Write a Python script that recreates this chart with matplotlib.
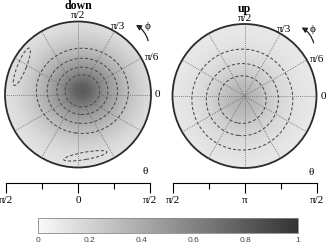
import numpy as np
import matplotlib
matplotlib.use("Agg")
import matplotlib.pyplot as plt
from matplotlib.colors import LinearSegmentedColormap
from matplotlib.patches import Circle, Ellipse, FancyArrowPatch

# ---------------- data ----------------
panel_titles = ["down", "up"]
phi_labels = ["0", "\u03c0/6", "\u03c0/3", "\u03c0/2"]
theta_ticklabels = [["\u03c0/2", "0", "\u03c0/2"], ["\u03c0/2", "\u03c0", "\u03c0/2"]]
cbar_ticks = [0, 0.2, 0.4, 0.6, 0.8, 1]

# density radial profile (distance from the peak, in disc radii) -> value
down_profile_r = [0.0, 0.1, 0.2, 0.3, 0.42, 0.55, 0.7, 0.85, 1.05, 1.3]
down_profile_v = [0.82, 0.75, 0.62, 0.52, 0.42, 0.32, 0.23, 0.16, 0.11, 0.09]
down_peak = (0.06, 0.05)
down_aspect = (1.08, 1.0)
down_levels = [0.3, 0.4, 0.5, 0.6]
# small closed contours near the rim: (x, y, length, width, angle)
down_edge_loops = [(-0.77, 0.38, 0.55, 0.12, 68), (0.10, -0.84, 0.60, 0.10, 10)]

up_profile_r = [0.0, 0.2, 0.33, 0.5, 0.7, 0.9, 1.2]
up_profile_v = [0.38, 0.32, 0.25, 0.18, 0.13, 0.10, 0.08]
up_peak = (-0.03, -0.05)
up_aspect = (1.0, 1.0)
up_levels = [0.13, 0.18, 0.25]
up_edge_loops = []

# ---------------- figure ----------------
W, H = 329, 249
fig = plt.figure(figsize=(W / 100, H / 100), dpi=100)
serif = ["Liberation Serif", "DejaVu Serif"]

cmap = LinearSegmentedColormap.from_list("g", [(0.98, 0.98, 0.98), (0.2, 0.2, 0.2)])
DASH = (0, (3, 2))


def px_axes(x0, y0, x1, y1):
    return fig.add_axes([x0 / W, 1 - y1 / H, (x1 - x0) / W, (y1 - y0) / H])


panels = [
    dict(c=(78, 94.5), r=73, pr=down_profile_r, pv=down_profile_v, peak=down_peak,
         asp=down_aspect, lev=down_levels, loops=down_edge_loops),
    dict(c=(244.5, 96), r=72, pr=up_profile_r, pv=up_profile_v, peak=up_peak,
         asp=up_aspect, lev=up_levels, loops=up_edge_loops),
]

g = np.linspace(-1, 1, 301)
X, Y = np.meshgrid(g, g)
im = None
for i, p in enumerate(panels):
    cx, cy = p["c"]
    r = p["r"]
    ax = px_axes(cx - r, cy - r, cx + r, cy + r)
    ax.set_xlim(-1, 1)
    ax.set_ylim(-1, 1)
    ax.set_axis_off()
    d = np.hypot((X - p["peak"][0]) / p["asp"][0], (Y - p["peak"][1]) / p["asp"][1])
    Z = np.interp(d, p["pr"], p["pv"])
    clip = Circle((0, 0), 1, transform=ax.transData)
    im = ax.imshow(Z, extent=(-1, 1, -1, 1), origin="lower", cmap=cmap, vmin=0, vmax=1)
    im.set_clip_path(clip)
    ax.contour(X, Y, Z, levels=p["lev"], colors="#4a4a4a", linewidths=0.75,
               linestyles=[DASH])
    for (lx, ly, lw_, lh, la) in p["loops"]:
        ax.add_patch(Ellipse((lx, ly), lw_, lh, angle=la, fill=False, ec="#4a4a4a",
                             lw=0.75, ls=DASH))
    # radial grid
    for a in np.arange(0, 180, 30):
        t = np.deg2rad(a)
        ax.plot([-np.cos(t), np.cos(t)], [-np.sin(t), np.sin(t)], color="#6a6a6a",
                lw=0.6, ls=(0, (1, 1.3)))
    ax.add_patch(Circle((0, 0), 1, fill=False, ec="#2a2a2a", lw=1.3, clip_on=False))
    # labels
    ax.text(0, 1.21, panel_titles[i], ha="center", va="center", fontsize=8.5,
            fontweight="bold", family=serif, clip_on=False)
    ax.text(0, 1.08, phi_labels[3], ha="center", va="center", fontsize=8, family=serif)
    ax.text(0.55, 0.93, phi_labels[2], ha="center", va="center", fontsize=8, family=serif)
    ax.text(1.01, 0.51, phi_labels[1], ha="center", va="center", fontsize=8, family=serif)
    ax.text(1.09, 0.0, phi_labels[0], ha="center", va="center", fontsize=8, family=serif)
    ax.text(0.95, 0.93, "\u03d5", ha="center", va="center", fontsize=8, family=serif)
    ax.add_patch(FancyArrowPatch((0.97, 0.70), (0.76, 0.97), connectionstyle="arc3,rad=0.25",
                                 arrowstyle="-|>,head_length=3,head_width=1.6", lw=0.9,
                                 color="#222222", clip_on=False))
    ax.text(0.92, -1.06, "\u03b8", ha="center", va="center", fontsize=8, family=serif)

    # theta axis
    x0, x1 = cx - 72, cx + 72
    tax = px_axes(x0, 173, x1, 183)
    lo = -np.pi / 2 if i == 0 else np.pi / 2
    tax.set_xlim(lo, lo + np.pi)
    tax.patch.set_visible(False)
    for s in ["top", "left", "right"]:
        tax.spines[s].set_visible(False)
    tax.spines["bottom"].set_linewidth(0.8)
    tax.set_yticks([])
    tax.set_xticks([lo, lo + np.pi / 2, lo + np.pi])
    tax.set_xticklabels(theta_ticklabels[i], family=serif, fontsize=8)
    tax.set_xticks([lo + np.pi / 4, lo + 3 * np.pi / 4], minor=True)
    tax.tick_params(which="major", direction="out", length=7, width=0.8, pad=2)
    tax.tick_params(which="minor", direction="out", length=4, width=0.8)

# colorbar
cax = px_axes(38, 218, 298, 233)
cb = fig.colorbar(im, cax=cax, orientation="horizontal", ticks=cbar_ticks)
cb.outline.set_edgecolor("#888888")
cb.outline.set_linewidth(0.6)
cax.tick_params(length=0, labelsize=6, pad=3, labelcolor="#444444")
cax.set_xticklabels([f"{t:g}" for t in cbar_ticks], family=["Liberation Sans", "DejaVu Sans"])

fig.savefig("out.png", dpi=100)
